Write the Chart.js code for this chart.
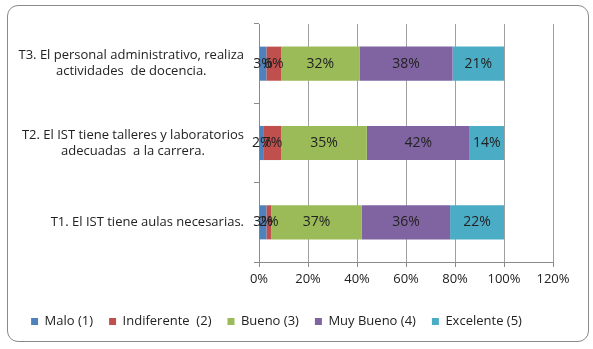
<!DOCTYPE html>
<html>
<head>
<meta charset="utf-8">
<script src="https://cdn.jsdelivr.net/npm/chart.js@4"></script>
<style>
  html, body { margin: 0; padding: 0; background: #fff; }
  #wrap { position: relative; width: 593px; height: 349px; }
  #marco {
    position: absolute; left: 7px; top: 5px; width: 582px; height: 337px;
    border: 1px solid #8a8a8a; border-radius: 11px; box-sizing: border-box;
  }
  canvas { position: absolute; left: 0; top: 0; }
</style>
</head>
<body>
<div id="wrap">
  <div id="marco"></div>
  <canvas id="myChart" width="593" height="349"></canvas>
</div>
<script>
const preguntas = [
  ['T3. El personal administrativo, realiza', 'actividades  de docencia.'],
  ['T2. El IST tiene talleres y laboratorios', 'adecuadas  a la carrera.'],
  ['T1. El IST tiene aulas necesarias.'],
];

const malo = [3, 2, 3];
const indiferente = [6, 7, 2];
const bueno = [32, 35, 37];
const muyBueno = [38, 42, 36];
const excelente = [21, 14, 22];

const ticksX = [0, 20, 40, 60, 80, 100, 120];

const FUENTE = "'Open Sans', 'Liberation Sans', sans-serif";
const TEXTO = '#222';

// porcentajes dentro de cada segmento
const etiquetasBarras = {
  id: 'etiquetasBarras',
  afterDatasetsDraw(chart) {
    const ctx = chart.ctx;
    ctx.save();
    ctx.font = '14px ' + FUENTE;
    ctx.fillStyle = TEXTO;
    ctx.textAlign = 'center';
    ctx.textBaseline = 'middle';
    chart.data.datasets.forEach((ds, i) => {
      chart.getDatasetMeta(i).data.forEach((bar, j) => {
        const p = bar.getCenterPoint();
        ctx.fillText(ds.data[j] + '%', p.x, p.y);
      });
    });
    ctx.restore();
  }
};

// textos de las preguntas, centrados por bloque y pegados al eje
const etiquetasEje = {
  id: 'etiquetasEje',
  afterDraw(chart) {
    const ctx = chart.ctx;
    const y = chart.scales.y;
    const derecha = y.right - 15;
    const alto = 16;
    ctx.save();
    ctx.font = '13px ' + FUENTE;
    ctx.fillStyle = TEXTO;
    ctx.textAlign = 'center';
    ctx.textBaseline = 'middle';
    preguntas.forEach((lineas, i) => {
      const ancho = Math.max(...lineas.map(l => ctx.measureText(l).width));
      const cx = derecha - ancho / 2;
      const cy = y.getPixelForValue(i) - (lineas.length - 1) * alto / 2;
      lineas.forEach((l, k) => ctx.fillText(l, cx, cy + k * alto));
    });
    ctx.restore();
  }
};

const data = {
  labels: preguntas.map(p => p.join(' ')),
  datasets: [
    { label: 'Malo (1)', data: malo, backgroundColor: '#4f81bd' },
    { label: 'Indiferente  (2)', data: indiferente, backgroundColor: '#c0504d' },
    { label: 'Bueno (3)', data: bueno, backgroundColor: '#9bbb59' },
    { label: 'Muy Bueno (4)', data: muyBueno, backgroundColor: '#8064a2' },
    { label: 'Excelente (5)', data: excelente, backgroundColor: '#4bacc6' },
  ]
};

const config = {
  type: 'bar',
  data: data,
  options: {
    indexAxis: 'y',
    responsive: false,
    animation: false,
    datasets: {
      bar: { categoryPercentage: 1, barPercentage: 0.43 }
    },
    layout: { padding: { top: 24, right: 40, left: 0, bottom: 11 } },
    scales: {
      x: {
        stacked: true,
        min: 0,
        max: 120,
        afterBuildTicks(axis) { axis.ticks = ticksX.map(v => ({ value: v })); },
        afterFit(axis) { axis.height = 37; },
        ticks: {
          callback: v => v + '%',
          color: TEXTO,
          font: { family: FUENTE, size: 13 },
          padding: 4,
        },
        grid: { color: '#a0a0a0', tickLength: 5, tickColor: '#8a8a8a' },
        border: { color: '#8a8a8a' },
      },
      y: {
        stacked: true,
        afterFit(axis) { axis.width = 259; },
        ticks: { display: false },
        grid: { drawOnChartArea: false, offset: true, tickLength: 5, tickColor: '#8a8a8a' },
        border: { color: '#8a8a8a' },
      }
    },
    plugins: {
      legend: {
        position: 'bottom',
        labels: {
          boxWidth: 7,
          boxHeight: 7,
          padding: 16,
          color: TEXTO,
          font: { family: FUENTE, size: 13 },
        }
      },
      tooltip: { enabled: false }
    }
  },
  plugins: [etiquetasBarras, etiquetasEje]
};

const myChart = new Chart(document.getElementById('myChart'), config);
</script>
</body>
</html>
